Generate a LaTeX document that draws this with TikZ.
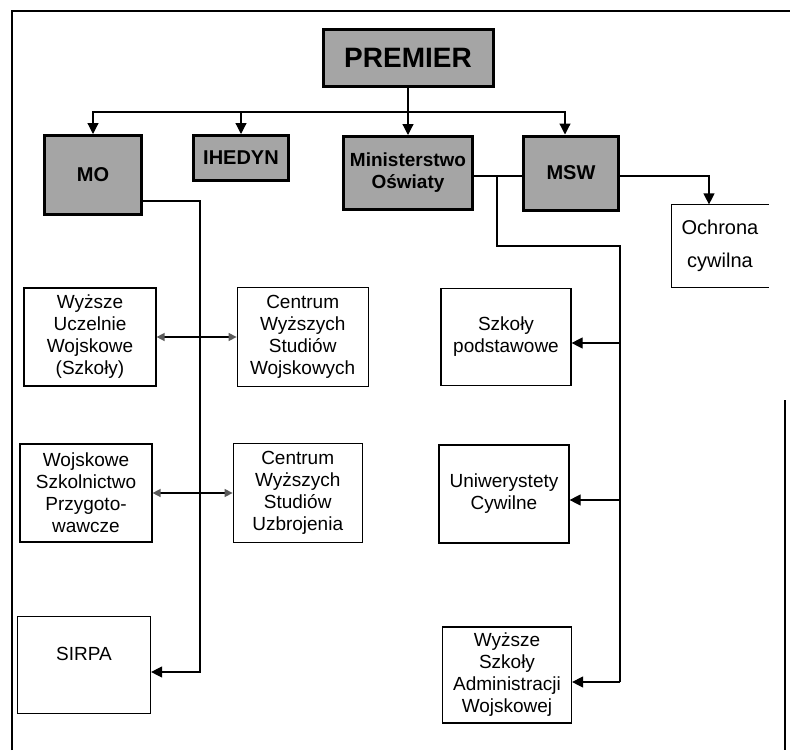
\documentclass[tikz,border=0pt]{standalone}
\usepackage{fontspec}
\setmainfont{Liberation Sans}
\usepackage{tikz}
\definecolor{headgray}{RGB}{165,165,165}
\definecolor{tipgray}{RGB}{90,90,90}
\usetikzlibrary{
  arrows.meta,
  positioning,
}
\tikzset{
  >={Triangle[length=11pt,width=11pt]},
  headbox/.style={draw,rectangle,line width=3pt,fill=headgray,inner sep=0pt,
    align=center,font=\bfseries\fontsize{20}{22}\selectfont},
  unitbox/.style={draw,rectangle,line width=1.2pt,inner sep=0pt,
    align=center,font=\fontsize{19}{22}\selectfont},
  link/.style={line width=1.2pt},
  twoway/.style={line width=1.4pt,
    {Triangle[length=8pt,width=8pt,color=tipgray]}-{Triangle[length=8pt,width=8pt,color=tipgray]}},
}

\begin{document}
\begin{tikzpicture}[x=1pt,y=-1pt]
  \useasboundingbox (0,0) rectangle (790,750);
  % ramka
  \draw[line width=1.8pt] (12,750) -- (12,11) -- (790,11);
  \draw[line width=1.8pt] (785,400) -- (785,750);

  % gora
  \node[headbox,minimum width=170,minimum height=57,font=\bfseries\fontsize{28}{30}\selectfont]
    (premier) at (408,58) {PREMIER};
  \node[headbox,minimum width=97,minimum height=79] (mo) at (93,175) {MO};
  \node[headbox,minimum width=95,minimum height=45] (ihedyn) at (241,158) {IHEDYN};
  \node[headbox,minimum width=129,minimum height=73,font=\bfseries\fontsize{19}{22}\selectfont]
    (mino) at (408,173) {Ministerstwo\\Oświaty};
  \node[headbox,minimum width=95,minimum height=74] (msw) at (571,173) {MSW};
  \node[unitbox,draw=none,minimum width=96,minimum height=82,font=\fontsize{20}{22}\selectfont]
    (ochr) at (720,246) {Ochrona\\[11pt]cywilna};
  \draw[link] (ochr.north east) -| (ochr.south west) -- (ochr.south east);

  % MO
  \node[unitbox,minimum width=132,minimum height=98] (wuw) at (90,337) {Wyższe\\Uczelnie\\Wojskowe\\(Szkoły)};
  \node[unitbox,minimum width=131,minimum height=99] (cwsw) [right=80pt of wuw] {Centrum\\Wyższych\\Studiów\\Wojskowych};
  \node[unitbox,minimum width=132,minimum height=98] (wszp) at (86,493) {Wojskowe\\Szkolnictwo\\Przygoto-\\wawcze};
  \node[unitbox,minimum width=129,minimum height=99] (cwsu) [right=80pt of wszp] {Centrum\\Wyższych\\Studiów\\Uzbrojenia};
  \node[unitbox,minimum width=133,minimum height=97] (sirpa) at (84,665) {SIRPA\\\mbox{}};

  % Oswiata
  \node[unitbox,minimum width=130,minimum height=97] (szp) at (506,337) {Szkoły\\podstawowe};
  \node[unitbox,minimum width=130,minimum height=98] (uc) at (504,494) {Uniwerystety\\Cywilne};
  \node[unitbox,minimum width=129,minimum height=96] (wsaw) at (507,675) {Wyższe\\Szkoły\\Administracji\\Wojskowej};

  % linie
  \draw[link,->] (premier) -- (mino);
  \coordinate (bus) at (408,112);
  \draw[link,->] (bus) -| (mo);
  \draw[link,->] (bus) -| (ihedyn);
  \draw[link,->] (bus) -| ([xshift=-6pt]msw.north);
  \draw[link] ([yshift=-3pt]mino.east) -- ([yshift=-3pt]msw.west);
  \draw[link,->] ([yshift=-3pt]msw.east) -| ([xshift=-11pt]ochr.north);

  \coordinate (mbr) at (497,176);
  \coordinate (rtop) at (620,246);
  \coordinate (rbot) at (620,682);
  \draw[link] (mbr) |- (rtop) -- (rbot);
  \draw[link,->] ([yshift=-6pt]rtop |- szp) -- ([yshift=-6pt]szp.east);
  \draw[link,->] ([yshift=-6pt]rtop |- uc) -- ([yshift=-6pt]uc.east);
  \draw[link,->] (rbot) -- (rbot -| wsaw.east);

  \coordinate (lbot) at (200,672);
  \draw[link,->] ([yshift=15pt]mo.south east) -| (lbot) -- (lbot -| sirpa.east);
  \draw[twoway] (wuw) -- (cwsw);
  \draw[twoway] (wszp) -- (cwsu);
\end{tikzpicture}
\end{document}
